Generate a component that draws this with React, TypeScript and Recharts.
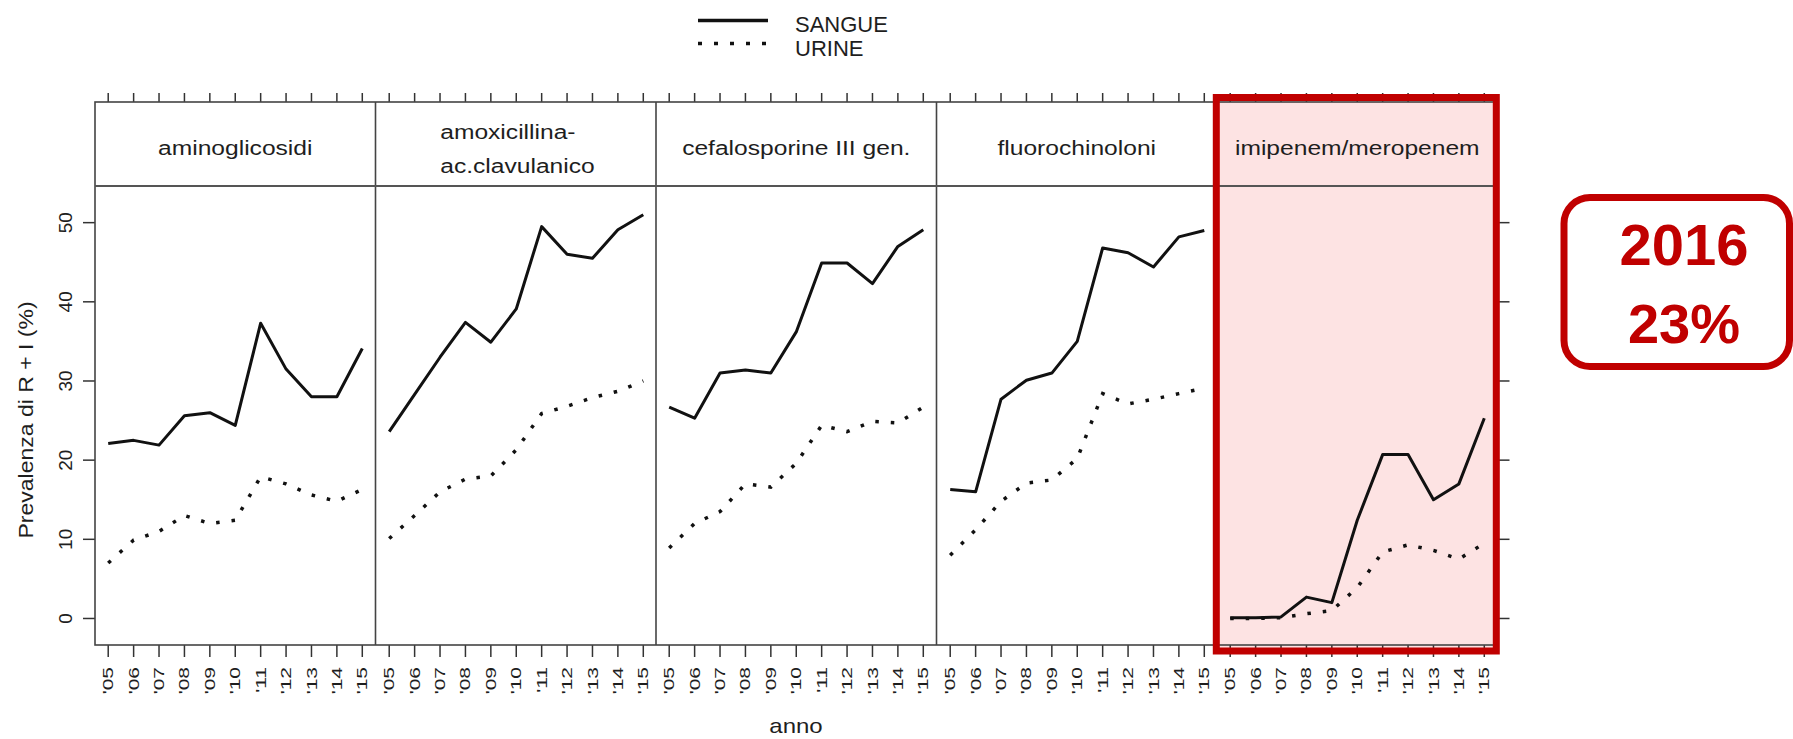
import React from 'react';
import { LineChart, Line, XAxis, YAxis } from 'recharts';

// ---------- data ----------
const years = [2005, 2006, 2007, 2008, 2009, 2010, 2011, 2012, 2013, 2014, 2015];
const yearLabels = ["'05", "'06", "'07", "'08", "'09", "'10", "'11", "'12", "'13", "'14", "'15"];
const yTicks = [0, 10, 20, 30, 40, 50];
const seriesNames = ['SANGUE', 'URINE'];

const panelTitles = [
  ['aminoglicosidi'],
  ['amoxicillina-', 'ac.clavulanico'],
  ['cefalosporine III gen.'],
  ['fluorochinoloni'],
  ['imipenem/meropenem'],
];

const aminoSangue = [22.1, 22.5, 21.9, 25.6, 26.0, 24.4, 37.3, 31.5, 28.0, 28.0, 34.1];
const aminoUrine = [7.0, 9.9, 11.0, 13.0, 12.0, 12.4, 17.9, 17.0, 15.6, 14.8, 16.3];
const amoxSangue = [23.6, 28.3, 33.0, 37.4, 34.9, 39.1, 49.5, 46.0, 45.5, 49.1, 51.0];
const amoxUrine = [10.1, 13.0, 16.0, 17.6, 18.0, 21.3, 25.9, 26.8, 27.9, 28.7, 30.0];
const cefaSangue = [26.7, 25.3, 31.0, 31.4, 31.0, 36.2, 44.9, 44.9, 42.3, 47.0, 49.1];
const cefaUrine = [8.9, 12.0, 13.5, 17.0, 16.6, 19.6, 24.4, 23.6, 24.9, 24.7, 26.7];
const fluoSangue = [16.3, 16.0, 27.7, 30.1, 31.0, 35.0, 46.8, 46.2, 44.4, 48.2, 49.0];
const fluoUrine = [8.0, 11.2, 14.8, 17.1, 17.5, 20.2, 28.4, 27.1, 27.7, 28.4, 29.1];
const imipSangue = [0.1, 0.1, 0.2, 2.7, 2.0, 12.4, 20.7, 20.7, 15.0, 17.0, 25.3];
const imipUrine = [0.0, 0.0, 0.1, 0.6, 1.0, 3.9, 8.4, 9.3, 8.6, 7.5, 9.5];

const annotationLines = ['2016', '23%'];

const panelSeries = [
  [aminoSangue, aminoUrine],
  [amoxSangue, amoxUrine],
  [cefaSangue, cefaUrine],
  [fluoSangue, fluoUrine],
  [imipSangue, imipUrine],
];

// ---------- layout ----------
const FONT = 'Liberation Sans, Arial, Helvetica, sans-serif';
const PANEL_LEFT = 95;
const PANEL_W = 280.5;
const STRIP_TOP = 102;
const PLOT_TOP = 186;
const PLOT_BOTTOM = 645;
const X_DOMAIN: [number, number] = [2004.48, 2015.52];
const Y_DOMAIN: [number, number] = [-3.35, 54.63];
const TEXT = '#1e1e1e';
const BORDER = '#444';
const RED = '#C00000';

const EmptyTick = () => <g />;

const XTick = (props: any) => {
  const { x, y, payload } = props;
  const i = years.indexOf(payload.value);
  return (
    <text
      transform={`translate(${x},${y}) rotate(-90) scale(1.5,1)`}
      textAnchor="end"
      dy="0.36em"
      fontSize={14}
      fill={TEXT}
      fontFamily={FONT}
    >
      {yearLabels[i]}
    </text>
  );
};

const YTick = (props: any) => {
  const { x, y, payload } = props;
  return (
    <text
      transform={`translate(${x},${y}) rotate(-90)`}
      textAnchor="middle"
      fontSize={19}
      fill={TEXT}
      fontFamily={FONT}
    >
      {payload.value}
    </text>
  );
};

function Panel({ index }: { index: number }) {
  const x0 = PANEL_LEFT + index * PANEL_W;
  const isFirst = index === 0;
  const isLast = index === 4;
  const leftW = isFirst ? 95 : 0;
  const rightW = isLast ? 20 : 0;
  const [s, u] = panelSeries[index];
  const data = years.map((yr, i) => ({ year: yr, [seriesNames[0]]: s[i], [seriesNames[1]]: u[i] }));
  const stripAxisH = 12;
  return (
    <>
      {/* strip with top ticks */}
      <div style={{ position: 'absolute', left: x0, top: STRIP_TOP - stripAxisH, zIndex: 1 }}>
        <LineChart
          width={PANEL_W}
          height={stripAxisH + (PLOT_TOP - STRIP_TOP)}
          data={data}
          margin={{ top: 0, right: 0, bottom: 0, left: 0 }}
        >
          <XAxis
            orientation="top"
            dataKey="year"
            type="number"
            domain={X_DOMAIN}
            ticks={years}
            interval={0}
            height={stripAxisH}
            tickSize={9}
            axisLine={false}
            tick={<EmptyTick />}
            tickLine={{ stroke: '#333', strokeWidth: 1.5 }}
          />
          <YAxis hide domain={Y_DOMAIN} type="number" />
          <Line dataKey={seriesNames[0]} hide isAnimationActive={false} dot={false} />
        </LineChart>
      </div>
      {/* main plot */}
      <div style={{ position: 'absolute', left: x0 - leftW, top: PLOT_TOP, zIndex: 1 }}>
        <LineChart
          width={leftW + PANEL_W + rightW}
          height={PLOT_BOTTOM - PLOT_TOP + 94}
          data={data}
          margin={{ top: 0, right: 0, bottom: 0, left: 0 }}
        >
          <XAxis
            dataKey="year"
            type="number"
            domain={X_DOMAIN}
            ticks={years}
            interval={0}
            height={94}
            tickSize={12}
            tickMargin={10}
            axisLine={false}
            tick={<XTick />}
            tickLine={{ stroke: '#333', strokeWidth: 1.5 }}
          />
          {isFirst ? (
            <YAxis
              type="number"
              domain={Y_DOMAIN}
              ticks={yTicks}
              interval={0}
              width={95}
              tickSize={12}
              tickMargin={11}
              axisLine={false}
              tick={<YTick />}
              tickLine={{ stroke: '#333', strokeWidth: 1.5 }}
              allowDataOverflow
            />
          ) : isLast ? (
            <YAxis
              orientation="right"
              type="number"
              domain={Y_DOMAIN}
              ticks={yTicks}
              interval={0}
              width={20}
              tickSize={12}
              axisLine={false}
              tick={<EmptyTick />}
              tickLine={{ stroke: '#333', strokeWidth: 1.5 }}
              allowDataOverflow
            />
          ) : (
            <YAxis hide type="number" domain={Y_DOMAIN} allowDataOverflow />
          )}
          <Line
            dataKey={seriesNames[0]}
            type="linear"
            stroke="#111"
            strokeWidth={3}
            strokeLinejoin="round"
            dot={false}
            isAnimationActive={false}
          />
          <Line
            dataKey={seriesNames[1]}
            type="linear"
            stroke="#111"
            strokeWidth={3.5}
            strokeDasharray="3.5 12"
            dot={false}
            isAnimationActive={false}
          />
        </LineChart>
      </div>
    </>
  );
}

function Overlay() {
  const right = PANEL_LEFT + 5 * PANEL_W;
  return (
    <svg
      width={1793}
      height={739}
      style={{ position: 'absolute', left: 0, top: 0, zIndex: 2, pointerEvents: 'none' }}
    >
      {/* frame */}
      <rect x={PANEL_LEFT} y={STRIP_TOP} width={right - PANEL_LEFT} height={PLOT_BOTTOM - STRIP_TOP} fill="none" stroke={BORDER} strokeWidth={1.6} />
      {[1, 2, 3, 4].map((i) => (
        <line key={i} x1={PANEL_LEFT + i * PANEL_W} x2={PANEL_LEFT + i * PANEL_W} y1={STRIP_TOP} y2={PLOT_BOTTOM} stroke={BORDER} strokeWidth={1.6} />
      ))}
      <line x1={PANEL_LEFT} x2={right} y1={PLOT_TOP} y2={PLOT_TOP} stroke="#555" strokeWidth={2.2} />

      {/* strip labels */}
      {panelTitles.map((lines, i) => {
        const cx = PANEL_LEFT + i * PANEL_W + PANEL_W / 2;
        if (lines.length === 1) {
          return (
            <text key={i} transform={`translate(${cx},155) scale(1.23,1)`} textAnchor="middle" fontSize={20} fill={TEXT} fontFamily={FONT}>
              {lines[0]}
            </text>
          );
        }
        const sx = cx - 75.5;
        return (
          <g key={i}>
            {lines.map((l, k) => (
              <text key={k} transform={`translate(${sx},${138.5 + k * 34}) scale(1.23,1)`} textAnchor="start" fontSize={20} fill={TEXT} fontFamily={FONT}>
                {l}
              </text>
            ))}
          </g>
        );
      })}

      {/* legend */}
      <line x1={698} x2={768} y1={20.5} y2={20.5} stroke="#111" strokeWidth={3.5} />
      <line x1={698} x2={772} y1={43.5} y2={43.5} stroke="#111" strokeWidth={3.5} strokeDasharray="4 12" />
      <text x={795} y={31.5} fontSize={22} fill={TEXT} fontFamily={FONT}>{seriesNames[0]}</text>
      <text x={795} y={55.5} fontSize={22} fill={TEXT} fontFamily={FONT}>{seriesNames[1]}</text>

      {/* axis titles */}
      <text transform={`translate(33,420) rotate(-90) scale(1.15,1)`} textAnchor="middle" fontSize={20} fill={TEXT} fontFamily={FONT}>
        Prevalenza di R + I (%)
      </text>
      <text transform={`translate(796,733) scale(1.2,1)`} textAnchor="middle" fontSize={20} fill={TEXT} fontFamily={FONT}>
        anno
      </text>

      {/* highlight frame */}
      <rect x={1216.3} y={97.5} width={280} height={553.5} fill="none" stroke={RED} strokeWidth={7} />

      {/* annotation */}
      <rect x={1564} y={197.5} width={225.5} height={169} rx={26} ry={26} fill="#fff" stroke={RED} strokeWidth={7} />
      <text x={1684} y={265} textAnchor="middle" fontSize={58} fontWeight="bold" fill={RED} fontFamily={FONT}>{annotationLines[0]}</text>
      <text x={1684} y={343} textAnchor="middle" fontSize={56} fontWeight="bold" fill={RED} fontFamily={FONT}>{annotationLines[1]}</text>
    </svg>
  );
}

export default function App() {
  return (
    <div style={{ position: 'absolute', left: 0, top: 0, width: 1793, height: 739, background: '#fff', overflow: 'hidden' }}>
      <div style={{ position: 'absolute', left: 1216, top: 97, width: 281, height: 554, background: '#FDE3E3', zIndex: 0 }} />
      {[0, 1, 2, 3, 4].map((i) => (
        <Panel key={i} index={i} />
      ))}
      <Overlay />
    </div>
  );
}
